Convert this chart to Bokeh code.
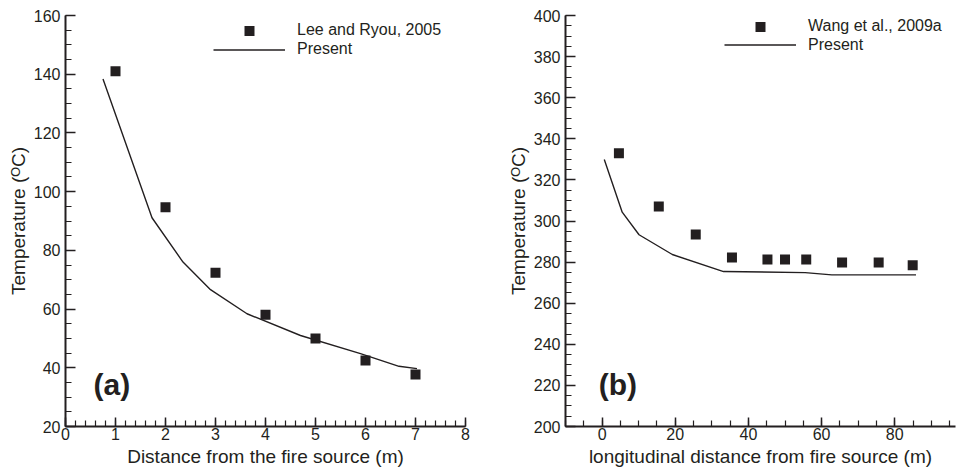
from bokeh.plotting import figure
from bokeh.layouts import row
from bokeh.models import Range1d, SingleIntervalTicker, Legend, LegendItem, Label
from bokeh.embed import file_html
from bokeh.resources import INLINE

# ---- Panel (a) data ----
a_exp_x = [1, 2, 3, 4, 5, 6, 7]
a_exp_y = [141, 94.7, 72.4, 58.1, 50, 42.5, 37.7]
a_sim_x = [0.75, 1.73, 2.35, 2.9, 3.63, 4.7, 5.9, 6.67, 7.03]
a_sim_y = [138.4, 91.1, 76.0, 66.6, 58.4, 51.0, 44.8, 40.5, 39.7]

# ---- Panel (b) data ----
b_exp_x = [4.6, 15.5, 25.6, 35.5, 45.2, 50, 55.8, 65.6, 75.6, 84.9]
b_exp_y = [333.0, 307.1, 293.4, 282.2, 281.3, 281.3, 281.3, 279.8, 279.8, 278.5]
b_sim_x = [0.6, 5.5, 10.1, 19.2, 33.2, 55.5, 62.8, 85.8]
b_sim_y = [329.9, 304.3, 293.3, 283.7, 275.4, 274.9, 273.8, 273.8]

INK = "#231f20"
FONT = "Liberation Sans"
FRAME_H = 411


def style_axes(p, xint, xminor, yint, yminor):
    p.xaxis.ticker = SingleIntervalTicker(interval=xint, num_minor_ticks=xminor)
    p.yaxis.ticker = SingleIntervalTicker(interval=yint, num_minor_ticks=yminor)
    for ax in p.axis:
        ax.axis_line_width = 2
        ax.axis_line_color = INK
        ax.major_tick_line_color = INK
        ax.minor_tick_line_color = INK
        ax.major_tick_line_width = 1.5
        ax.minor_tick_line_width = 1.2
        ax.major_tick_out = 0
        ax.minor_tick_out = 0
        ax.minor_tick_in = 6
        ax.major_label_text_font = FONT
        ax.major_label_text_font_size = "16px"
        ax.major_label_text_color = INK
        ax.axis_label_text_font = FONT
        ax.axis_label_text_font_size = "19px"
        ax.axis_label_text_font_style = "normal"
        ax.axis_label_text_color = INK
    p.xaxis.major_tick_in = 9
    p.yaxis.major_tick_in = 10
    p.xaxis.major_label_standoff = 1
    p.yaxis.major_label_standoff = 5
    p.xaxis.axis_label_standoff = 3
    p.yaxis.axis_label_standoff = 2
    p.xgrid.visible = False
    p.ygrid.visible = False
    p.outline_line_color = None


def leg(item, x, top):
    return Legend(items=[item], location=(x, FRAME_H - top - 25),
                  glyph_width=72, glyph_height=25, label_height=25,
                  spacing=0, padding=0, margin=0, label_standoff=12,
                  label_text_font=FONT, label_text_font_size="16px", label_text_color=INK,
                  border_line_color=None, background_fill_alpha=0)


def make_panel(width, bl, br, xr, yr, xlabel, exp_x, exp_y, sim_x, sim_y, leg_label, leg_pos, tag, tag_xy):
    p = figure(width=width, height=470, x_range=Range1d(*xr), y_range=Range1d(*yr),
               output_backend="svg", toolbar_location=None,
               min_border_left=bl, min_border_right=br, min_border_top=15,
               min_border_bottom=470 - 15 - FRAME_H,
               x_axis_label=xlabel, y_axis_label="Temperature (\u1d3cC)")
    style_axes(p, *(tag_xy[2]))
    r_sim = p.line(sim_x, sim_y, line_color=INK, line_width=1.4)
    r_exp = p.scatter(exp_x, exp_y, marker="square", size=10, fill_color=INK, line_color=None)
    lx, t1, t2 = leg_pos
    p.add_layout(leg(LegendItem(label=leg_label, renderers=[r_exp]), lx, t1), "center")
    p.add_layout(leg(LegendItem(label="Present", renderers=[r_sim]), lx, t2), "center")
    p.add_layout(Label(x=tag_xy[0], y=tag_xy[1], text=tag, text_font=FONT,
                       text_font_size="30px", text_font_style="bold", text_color=INK,
                       text_baseline="middle", text_align="left"))
    return p


pa = make_panel(478, 65, 13, (0, 8), (20, 160), "Distance from the fire source (m)",
                a_exp_x, a_exp_y, a_sim_x, a_sim_y, "Lee and Ryou, 2005", (148, 2.5, 21.5),
                "(a)", (0.56, 34.3, (1, 5, 20, 4)))
pb = make_panel(478, 87, 1, (-10, 96.6), (200, 400), "longitudinal distance from fire source (m)",
                b_exp_x, b_exp_y, b_sim_x, b_sim_y, "Wang et al., 2009a", (159, -1.5, 17.2),
                "(b)", (-0.9, 220.4, (20, 4, 20, 4)))

layout = row(pa, pb)
open("out.html", "w").write(file_html(layout, INLINE))
